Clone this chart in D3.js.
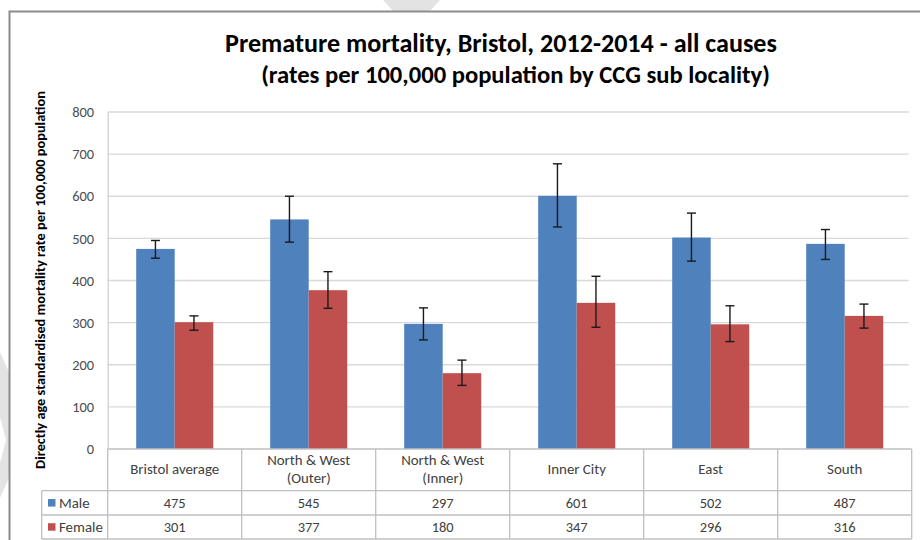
<!DOCTYPE html>
<html>
<head>
<meta charset="utf-8">
<script src="https://cdn.jsdelivr.net/npm/d3@7"></script>
<style>
  body { margin: 0; background: #fff; }
  svg { display: block; font-family: Carlito, Calibri, Lato, "Open Sans", sans-serif; }
</style>
</head>
<body>
<div id="chart"></div>
<script>
// data
var categories = ["Bristol average", "North & West (Outer)", "North & West (Inner)", "Inner City", "East", "South"];
var catLines = [["Bristol average"], ["North & West", "(Outer)"], ["North & West", "(Inner)"], ["Inner City"], ["East"], ["South"]];
var series = ["Male", "Female"];
var maleRates = [475, 545, 297, 601, 502, 487];
var femaleRates = [301, 377, 180, 347, 296, 316];
var maleLow = [453, 491, 259, 527, 446, 450];
var maleHigh = [495, 600, 335, 677, 560, 521];
var femaleLow = [282, 334, 151, 289, 255, 287];
var femaleHigh = [316, 421, 211, 410, 340, 344];
var yTicks = [0, 100, 200, 300, 400, 500, 600, 700, 800];
var colors = { Male: "#4f81bd", Female: "#c0504d" };

var W = 920, H = 540;
var plotLeft = 107.7, plotRight = 911.7, plotTop = 112, zeroY = 449;
var textCol = "#404040";

var svg = d3.select("#chart").append("svg").attr("width", W).attr("height", H);

// work out font sizes from text widths measured on the picture
function sizeFor(str, target, weight) {
  var t = svg.append("text").attr("font-size", 20).attr("font-weight", weight || "normal").text(str);
  var w = t.node().getComputedTextLength();
  t.remove();
  return +(20 * target / w).toFixed(2);
}
var catFont = sizeFor("Bristol average", 89);
var numFont = sizeFor("475", 22);

// faint watermark fragments
var wm = svg.append("g").attr("fill", "#e3e3e3");
wm.append("polygon").attr("points", "383,0 440,0 430,11 393,11");
wm.append("polygon").attr("points", "0,352 9,372 9,478 0,498 0,463 6,440 0,417");

// outer chart frame
svg.append("path").attr("d", "M9.5,540 V11.5 H920")
  .attr("fill", "none").attr("stroke", "#8c8c8c").attr("stroke-width", 2);

var x0 = d3.scaleBand().domain(categories).range([plotLeft, plotRight]).paddingInner(0).paddingOuter(0);
var x1 = d3.scaleBand().domain(series).range([0, x0.bandwidth()]).paddingInner(0).paddingOuter(0.74);
var y = d3.scaleLinear().domain([0, 800]).range([zeroY, plotTop]);

// gridlines
svg.append("g").selectAll("line").data(yTicks.filter(function(d){ return d > 0; })).join("line")
  .attr("x1", plotLeft).attr("x2", plotRight - 3)
  .attr("y1", function(d){ return y(d); }).attr("y2", function(d){ return y(d); })
  .attr("stroke", "#d9d9d9").attr("stroke-width", 1.3);

// y axis
var yAxis = svg.append("g").attr("transform", "translate(" + plotLeft + ",0)")
  .call(d3.axisLeft(y).tickValues(yTicks).tickSize(0).tickPadding(13.5));
yAxis.select(".domain").attr("stroke", "#d0d0d0").attr("stroke-width", 1.3);
yAxis.selectAll("text").attr("font-size", numFont).attr("fill", "#4d4d4d")
  .attr("font-family", "Carlito, Calibri, Lato, sans-serif");

// bars
var flat = [];
categories.forEach(function(c, i) {
  flat.push({ cat: c, s: "Male", v: maleRates[i], lo: maleLow[i], hi: maleHigh[i] });
  flat.push({ cat: c, s: "Female", v: femaleRates[i], lo: femaleLow[i], hi: femaleHigh[i] });
});

svg.append("g").selectAll("rect").data(flat).join("rect")
  .attr("x", function(d){ return x0(d.cat) + x1(d.s); })
  .attr("width", x1.bandwidth())
  .attr("y", function(d){ return y(d.v); })
  .attr("height", function(d){ return y(0) - y(d.v); })
  .attr("fill", function(d){ return colors[d.s]; });

// error bars
var eb = svg.append("g").attr("stroke", "#1a1a1a").attr("stroke-width", 1.4);
flat.forEach(function(d) {
  var cx = x0(d.cat) + x1(d.s) + x1.bandwidth() / 2;
  eb.append("line").attr("x1", cx).attr("x2", cx).attr("y1", y(d.hi)).attr("y2", y(d.lo));
  eb.append("line").attr("x1", cx - 4.5).attr("x2", cx + 4.5).attr("y1", y(d.hi)).attr("y2", y(d.hi));
  eb.append("line").attr("x1", cx - 4.5).attr("x2", cx + 4.5).attr("y1", y(d.lo)).attr("y2", y(d.lo));
});

// data table under the axis
var rowTop = [zeroY, 490.7, 515, 539];
var legendLeft = 41.7;
var tg = svg.append("g");
var lineColor = "#bfbfbf";
function hline(xa, xb, yy) {
  tg.append("line").attr("x1", xa).attr("x2", xb).attr("y1", yy).attr("y2", yy)
    .attr("stroke", lineColor).attr("stroke-width", 1.3);
}
function vline(xx, ya, yb) {
  tg.append("line").attr("x1", xx).attr("x2", xx).attr("y1", ya).attr("y2", yb)
    .attr("stroke", lineColor).attr("stroke-width", 1.3);
}
hline(plotLeft, plotRight, zeroY);
hline(legendLeft, plotRight, rowTop[1]);
hline(legendLeft, plotRight, rowTop[2]);
hline(legendLeft, plotRight, rowTop[3]);
vline(legendLeft, rowTop[1], rowTop[3]);
categories.forEach(function(c) { vline(x0(c), zeroY, rowTop[3]); });
vline(plotRight, zeroY, rowTop[3]);

// category labels
categories.forEach(function(c, i) {
  var lines = catLines[i];
  var cx = x0(c) + x0.bandwidth() / 2;
  var mid = (rowTop[0] + rowTop[1]) / 2;
  var t = tg.append("text").attr("text-anchor", "middle").attr("font-size", catFont).attr("fill", textCol);
  lines.forEach(function(l, k) {
    var yy = mid + 4.5 + (k - (lines.length - 1) / 2) * 18;
    t.append("tspan").attr("x", cx).attr("y", yy).text(l);
  });
});

// value rows with legend keys
[maleRates, femaleRates].forEach(function(vals, r) {
  var s = series[r];
  var mid = (rowTop[r + 1] + rowTop[r + 2]) / 2;
  tg.append("rect").attr("x", 48).attr("y", mid - 3.8).attr("width", 7.5).attr("height", 7.5).attr("fill", colors[s]);
  tg.append("text").attr("x", 59).attr("y", mid + 4.7).attr("font-size", catFont).attr("fill", textCol).text(s);
  vals.forEach(function(v, i) {
    tg.append("text").attr("x", x0(categories[i]) + x0.bandwidth() / 2).attr("y", mid + 4.7)
      .attr("text-anchor", "middle").attr("font-size", numFont).attr("fill", textCol).text(v);
  });
});

// title, fitted to the width seen in the picture
function fitText(sel, target) {
  var w = sel.node().getComputedTextLength();
  var fs = parseFloat(sel.attr("font-size"));
  sel.attr("font-size", (fs * target / w).toFixed(2));
}
var t1 = svg.append("text").attr("x", 501).attr("y", 52).attr("text-anchor", "middle")
  .attr("font-size", 22).attr("font-weight", "bold").attr("fill", "#000")
  .text("Premature mortality, Bristol, 2012-2014 - all causes");
fitText(t1, 552);
var t2 = svg.append("text").attr("x", 515.5).attr("y", 83).attr("text-anchor", "middle")
  .attr("font-size", 22).attr("font-weight", "bold").attr("fill", "#000")
  .text("(rates per 100,000 population by CCG sub locality)");
fitText(t2, 509);

// y axis title
var yl = svg.append("text").attr("transform", "translate(44.5,280) rotate(-90)")
  .attr("text-anchor", "middle").attr("font-size", 12).attr("font-weight", "bold").attr("fill", "#000")
  .text("Directly age standardised mortality rate per 100,000 population");
fitText(yl, 378);
</script>
</body>
</html>
